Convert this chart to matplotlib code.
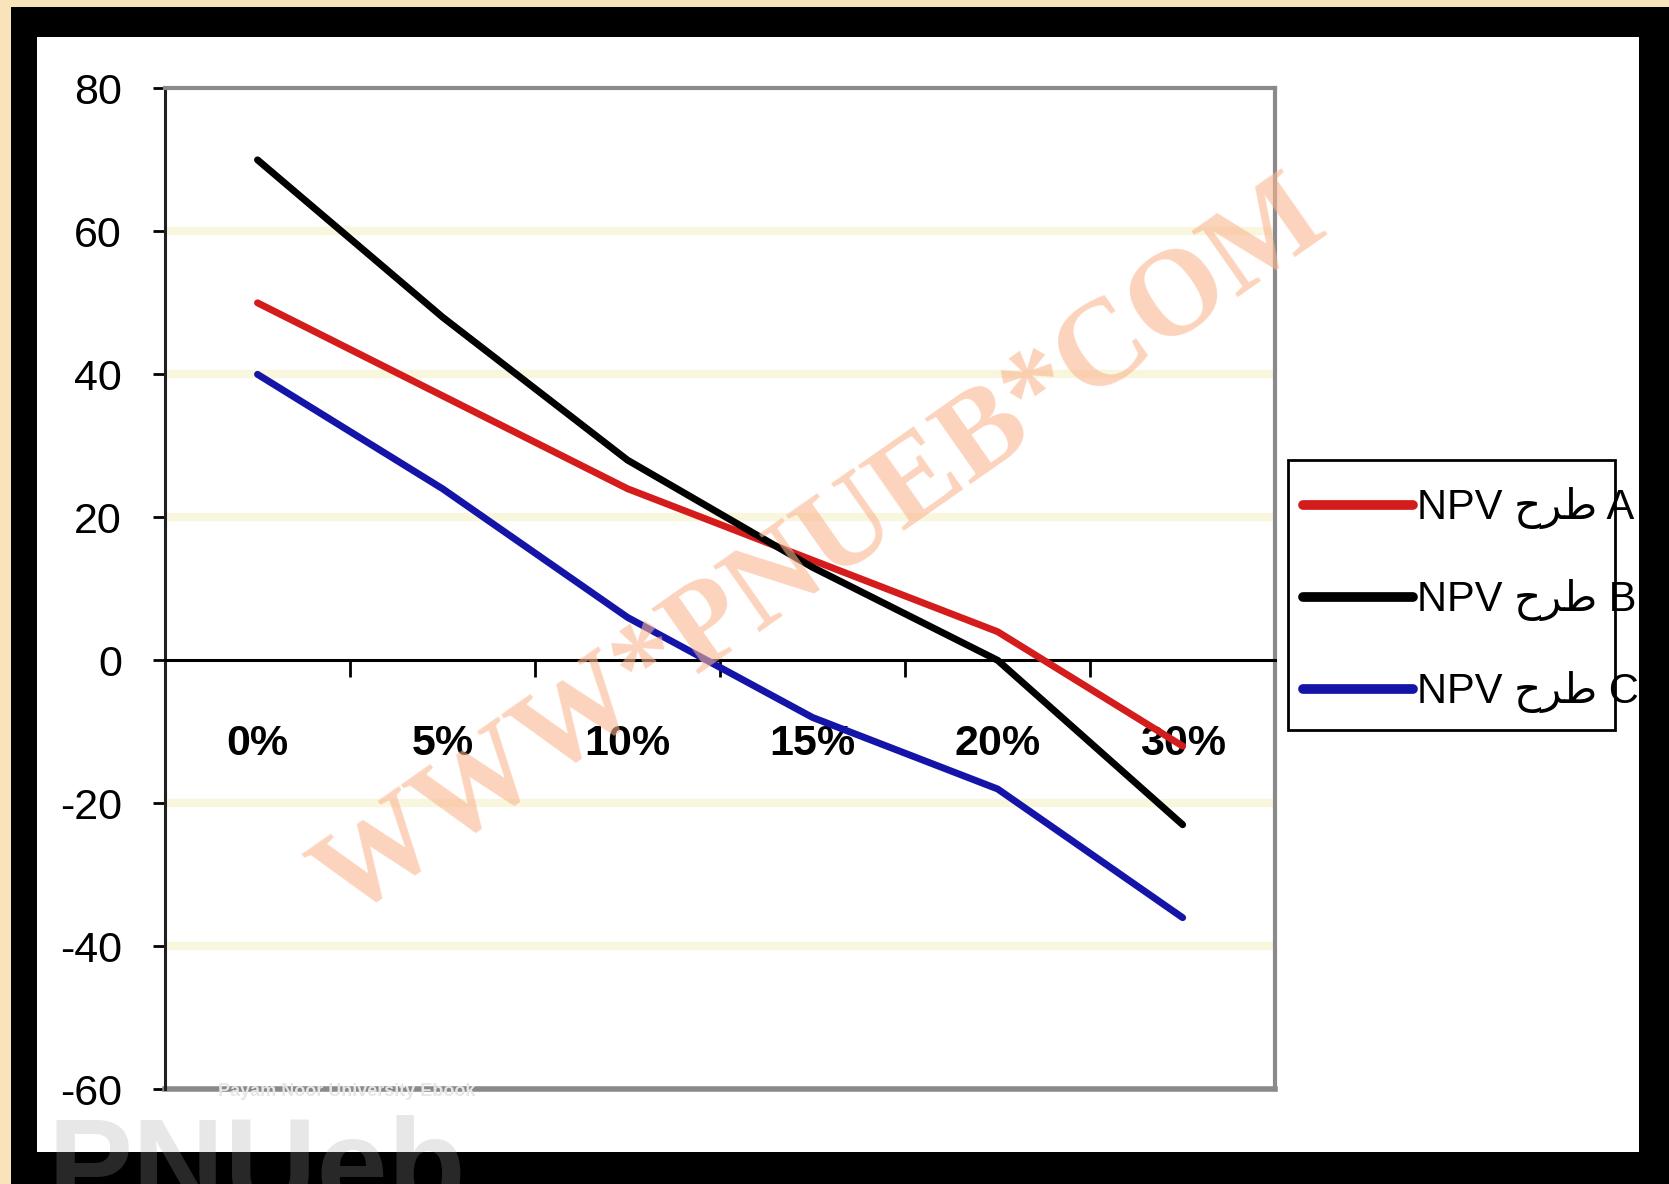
import matplotlib
matplotlib.use("Agg")
import matplotlib.pyplot as plt
from matplotlib.patches import Rectangle

# data
rates = ['0%', '5%', '10%', '15%', '20%', '30%']
npv_a = [50, 37, 24, 14, 4, -12]
npv_b = [70, 48, 28, 13, 0, -23]
npv_c = [40, 24, 6, -8, -18, -36]
yticks = [-60, -40, -20, 0, 20, 40, 60, 80]
grid_levels = [-40, -20, 20, 40, 60]

# "NPV tarh X" -- Arabic word given in visual (shaped) order
tarh = '\ufea1\ufeae\ufec3'
labels = ['NPV ' + tarh + ' A', 'NPV ' + tarh + ' B', 'NPV ' + tarh + ' C']

plt.rcParams['font.family'] = ['Liberation Sans', 'DejaVu Sans']

fig = plt.figure(figsize=(16.69, 11.84), dpi=100)
fig.patch.set_facecolor('#f8e3ba')
W, H = 1568.0, 1112.0  # layout measured on a 1568x1112 view

def fx(x):
    return x / W

def fy(y):
    return 1 - y / H

# black frame and white card
fig.patches.append(Rectangle((fx(10), 0), 1 - fx(10), fy(7), transform=fig.transFigure,
                             facecolor='black', edgecolor='none', zorder=-2))
fig.patches.append(Rectangle((fx(35), fy(1082)), fx(1540) - fx(35), fy(35) - fy(1082),
                             transform=fig.transFigure, facecolor='white', edgecolor='none', zorder=-1))

ax = fig.add_axes([fx(155), fy(1023), fx(1198) - fx(155), fy(83) - fy(1023)])
ax.set_facecolor('white')

x = list(range(len(rates)))
for lv in grid_levels:
    ax.axhline(lv, color='#f8f6dc', lw=6, zorder=0)

l1, = ax.plot(x, npv_a, color='#d41c1c', lw=5, solid_capstyle='round', zorder=3)
l2, = ax.plot(x, npv_b, color='black', lw=5, solid_capstyle='round', zorder=3)
l3, = ax.plot(x, npv_c, color='#1414a8', lw=5, solid_capstyle='round', zorder=3)

ax.set_xlim(-0.5, len(rates) - 0.5)
ax.set_ylim(-60, 80)

# spines
ax.spines['bottom'].set_position(('data', 0))
ax.spines['bottom'].set_color('black')
ax.spines['bottom'].set_linewidth(2.2)
ax.spines['left'].set_color('#202020')
ax.spines['left'].set_linewidth(2.2)
for s in ['top', 'right']:
    ax.spines[s].set_color('#8a8a8a')
    ax.spines[s].set_linewidth(3)
ax.axhline(-60, color='#8a8a8a', lw=4, clip_on=False, zorder=2)

ax.set_yticks(yticks)
ax.set_yticklabels([str(v) for v in yticks], fontsize=31)
ax.tick_params(axis='y', direction='out', length=9, width=2, pad=22, colors='black')

ax.set_xticks([i - 0.5 for i in range(len(rates) + 1)])
ax.set_xticklabels([])
ax.tick_params(axis='x', which='major', direction='out', length=12, width=2)
ax.set_xticks(x, minor=True)
ax.set_xticklabels(rates, minor=True, fontsize=31, fontweight='bold')
ax.tick_params(axis='x', which='minor', length=0, pad=46)

# legend
leg = fig.legend([l1, l2, l3], labels, loc='upper left',
                 bbox_to_anchor=(fx(1212), fy(446)), frameon=False,
                 fontsize=30, handlelength=2.65, handletextpad=0.1,
                 labelspacing=1.2, borderaxespad=0, borderpad=0.3)
for t in leg.get_texts():
    t.set_family(['Liberation Sans', 'DejaVu Sans'])
for h in leg.legend_handles:
    h.set_linewidth(7)
fig.patches.append(Rectangle((fx(1210), fy(686)), fx(1517) - fx(1210), fy(432) - fy(686),
                             transform=fig.transFigure, facecolor='none', edgecolor='black',
                             lw=2, zorder=4))
# right black band over the overflowing legend text
fig.patches.append(Rectangle((fx(1540), 0), 1 - fx(1540), fy(7), transform=fig.transFigure,
                             facecolor='black', edgecolor='none', zorder=6))

# watermarks
fig.text(fx(772), fy(518), 'WWW*PNUEB*COM', rotation=35, ha='center', va='center',
         fontsize=88, fontweight='bold', family='Liberation Serif', color='#fab690',
         alpha=0.6, zorder=5)
fig.text(fx(205), fy(1025), 'Payam Noor University Ebook', ha='left', va='center',
         fontsize=13, fontweight='bold', color='#e6e6e6', zorder=1)
fig.text(fx(45), fy(1047), 'PNUeb', ha='left', va='top', fontsize=92,
         fontweight='bold', color='#a0a0a0', alpha=0.25, zorder=5)

plt.savefig('out.png', dpi=100, facecolor=fig.get_facecolor())
